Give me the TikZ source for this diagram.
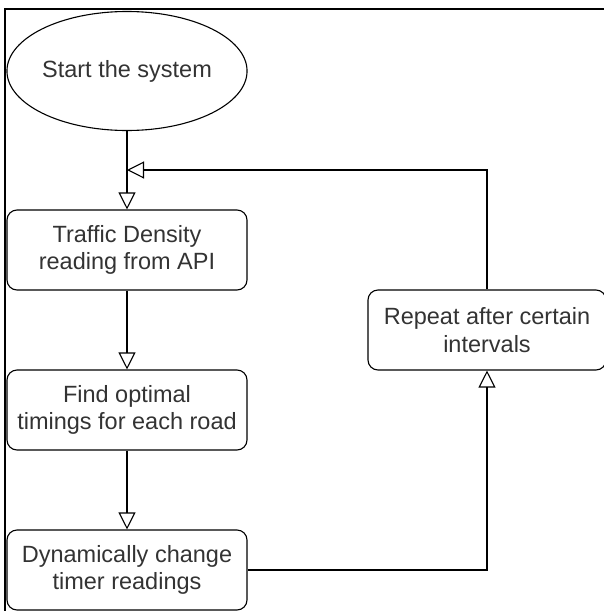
\documentclass[tikz,border=0pt]{standalone}
\usepackage{fontspec}
\setmainfont{Liberation Sans}
\usetikzlibrary{shapes.geometric,arrows.meta}

\begin{document}
\begin{tikzpicture}[ x=1pt, y=-1pt, line width=1.1pt,
	every node/.style={font=\fontsize{23.5}{27.5}\selectfont, text=black!80, align=center},
	proc/.style={draw, rounded corners=10pt, minimum width=240pt, minimum height=80pt, inner sep=0pt},
	flow/.style={-{Triangle[open,length=17pt,width=17pt]}} ]
	\useasboundingbox (0,0) rectangle (604,611);
	% frame
	\draw[line width=2pt] (5,611) -- (5,8.5) -- (604,8.5);
	\node[draw, ellipse, minimum width=240pt, minimum height=119pt, inner sep=0pt] (a) at (127,71) {Start the system};
	\node[proc] (b) at (127,250) {Traffic Density\\reading from API};
	\node[proc] (c) at (127,410) {Find optimal\\timings for each road};
	\node[proc] (d) at (127,570) {Dynamically change\\timer readings};
	\node[proc, minimum width=238pt] (e) at (487,330) {Repeat after certain\\intervals};
	\coordinate (j) at (127,170);
	\foreach \i/\k in {a/b,b/c,c/d}
		\draw[flow] (\i) -- (\k);
	\draw[flow] (d.east) -| (e.south);
	\draw[flow] (e.north) |- (j);
\end{tikzpicture}
\end{document}
